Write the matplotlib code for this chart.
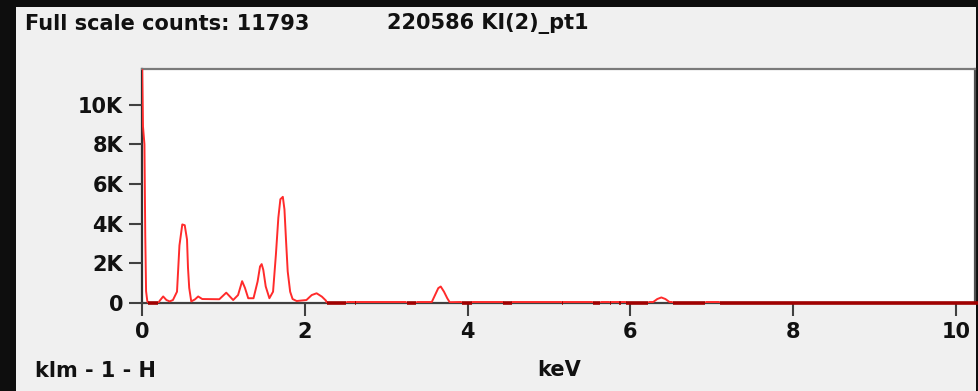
import numpy as np
import matplotlib.pyplot as plt
from matplotlib.patches import Rectangle

# EDS spectrum, traced points (keV, counts)
energy_kev = [0.000, 0.012, 0.030, 0.040, 0.050, 0.065, 0.075, 0.200, 0.215, 0.260,
              0.300, 0.340, 0.380, 0.430, 0.460, 0.495, 0.525, 0.553, 0.565, 0.580,
              0.605, 0.650, 0.690, 0.740, 0.950, 1.035, 1.120, 1.180, 1.230, 1.265,
              1.305, 1.370, 1.420, 1.450, 1.470, 1.490, 1.520, 1.565, 1.610, 1.645,
              1.675, 1.700, 1.730, 1.750, 1.770, 1.790, 1.820, 1.850, 1.900, 2.020,
              2.085, 2.145, 2.210, 2.260, 2.270, 2.510, 2.520, 2.545, 2.550, 2.555,
              2.560, 2.615, 2.620, 2.625, 2.630, 3.240, 3.250, 3.370, 3.380, 3.560,
              3.600, 3.640, 3.670, 3.710, 3.750, 3.780, 3.920, 3.930, 4.050, 4.060,
              4.430, 4.440, 4.540, 4.550, 5.150, 5.155, 5.170, 5.175, 5.530, 5.540,
              5.630, 5.640, 5.740, 5.745, 5.760, 5.765, 5.860, 5.865, 5.880, 5.885,
              5.940, 5.950, 6.220, 6.230, 6.280, 6.330, 6.380, 6.430, 6.480, 6.510,
              6.520, 6.920, 6.930, 7.090, 7.100, 10.300]
counts = [12500, 8900, 8000, 3400, 600, 100, 0, 0, 100, 330,
          150, 80, 150, 570, 2900, 3960, 3920, 3200, 1780, 760,
          80, 180, 330, 200, 190, 520, 150, 400, 1100, 760,
          240, 240, 1080, 1840, 1960, 1670, 830, 240, 570, 2440,
          4300, 5230, 5350, 4720, 3110, 1590, 570, 200, 100, 150,
          400, 490, 320, 120, 0, 0, 50, 50, 0, 0,
          50, 50, 0, 0, 50, 50, 0, 0, 50, 50,
          400, 750, 830, 570, 240, 40, 50, 0, 0, 50,
          50, 0, 0, 50, 50, 0, 0, 50, 50, 0,
          0, 50, 50, 0, 0, 50, 50, 0, 0, 50,
          50, 0, 0, 50, 50, 200, 280, 200, 50, 50,
          0, 0, 50, 50, 0, 0]

full_scale = 11793
sample_name = "220586 KI(2)_pt1"
x_ticks = [0, 2, 4, 6, 8, 10]
y_ticks = [0, 2000, 4000, 6000, 8000, 10000]
y_tick_labels = ["0", "2K", "4K", "6K", "8K", "10K"]

energy_kev = np.array(energy_kev)
counts = np.array(counts, dtype=float)

plt.rcParams['font.family'] = 'DejaVu Sans'
plt.rcParams['font.weight'] = 'bold'

W, H = 979, 391
fig = plt.figure(figsize=(W / 100, H / 100), dpi=100, facecolor='#0e0e0e')

# light grey panel inside the black frame
fig.patches.append(Rectangle((16 / W, 0), (976 - 16) / W, (H - 7) / H,
                             transform=fig.transFigure, facecolor='#f0f0f0',
                             edgecolor='none', zorder=-1))

ax = fig.add_axes([142 / W, 88 / H, (975 - 142) / W, (303 - 69) / H])
ax.set_zorder(2)
ax.set_facecolor('white')

ax.plot(energy_kev, counts, color='#ff2b2b', lw=1.4, zorder=3, clip_on=True)

# channels with no counts sit on the axis line
zero_only = np.where(counts == 0, 0.0, np.nan)
ax.plot(energy_kev, zero_only, color='#a00000', lw=2.6, zorder=4,
        solid_capstyle='butt', clip_on=False)

ax.set_xlim(0, (975 - 142) / 81.4)
ax.set_ylim(0, full_scale)

ax.set_xticks(x_ticks)
ax.set_xticklabels([str(t) for t in x_ticks])
ax.set_yticks(y_ticks)
ax.set_yticklabels(y_tick_labels)
ax.tick_params(length=9.5, width=1.5, color='#404040', labelsize=15,
               labelcolor='#111111', pad=4)

for side, col in [('top', '#7a7a7a'), ('left', '#303030'),
                  ('bottom', '#404040'), ('right', '#505050')]:
    ax.spines[side].set_color(col)
    ax.spines[side].set_linewidth(1.6)
    ax.spines[side].set_zorder(1)

fig.text(25 / W, 1 - 24 / H, f"Full scale counts: {full_scale}", fontsize=15,
         va='center', ha='left', color='#111111')
fig.text(387 / W, 1 - 24 / H, sample_name, fontsize=15,
         va='center', ha='left', color='#111111')
fig.text(35 / W, 1 - 371 / H, "klm - 1 - H", fontsize=15,
         va='center', ha='left', color='#111111')
fig.text(559 / W, 1 - 370 / H, "keV", fontsize=15,
         va='center', ha='center', color='#111111')

fig.savefig("out.png", dpi=100, facecolor=fig.get_facecolor())
